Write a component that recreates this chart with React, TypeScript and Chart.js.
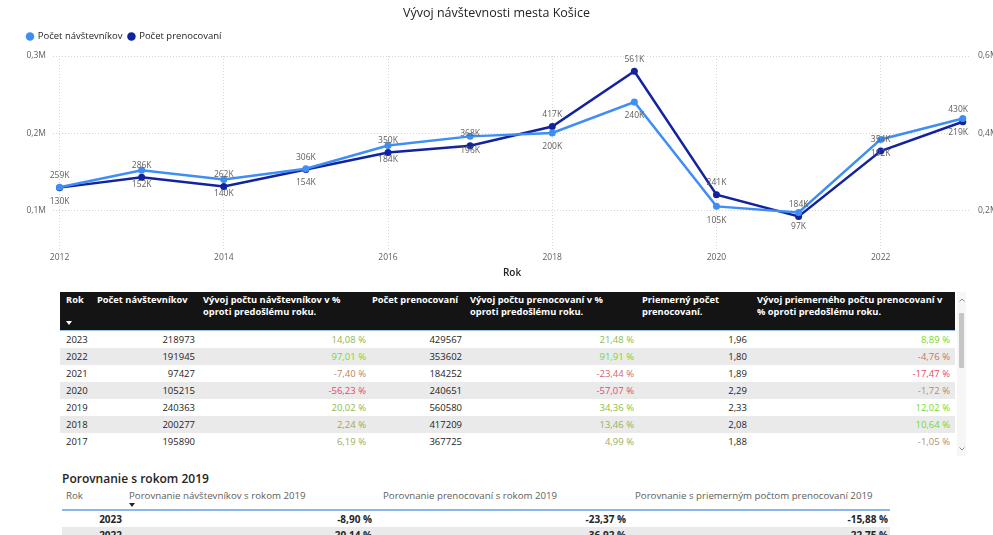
import React, { useEffect, useRef } from 'react';
import { Chart, registerables } from 'chart.js';

Chart.register(...registerables);

const FONT = "'Open Sans', 'Noto Sans', sans-serif";

// ---- chart data ----
const years = [2012, 2013, 2014, 2015, 2016, 2017, 2018, 2019, 2020, 2021, 2022, 2023];
const visitors = [130000, 152000, 140000, 154000, 184000, 195890, 200277, 240363, 105215, 97427, 191945, 218973];
const nights = [259000, 286000, 262000, 306000, 350000, 367725, 417209, 560580, 240651, 184252, 353602, 429567];
const xTickYears = [2012, 2014, 2016, 2018, 2020, 2022];
const leftTicks = [100000, 200000, 300000];
const rightTicks = [200000, 400000, 600000];

// ---- table data ----
const tableYears = [2023, 2022, 2021, 2020, 2019, 2018, 2017];
const tableVisitors = [218973, 191945, 97427, 105215, 240363, 200277, 195890];
const visitorsChange = [14.08, 97.01, -7.4, -56.23, 20.02, 2.24, 6.19];
const tableNights = [429567, 353602, 184252, 240651, 560580, 417209, 367725];
const nightsChange = [21.48, 91.91, -23.44, -57.07, 34.36, 13.46, 4.99];
const avgNights = [1.96, 1.8, 1.89, 2.29, 2.33, 2.08, 1.88];
const avgChange = [8.89, -4.76, -17.47, -1.72, 12.02, 10.64, -1.05];

const cmpYears = [2023, 2022];
const cmpVisitors = [-8.9, -20.14];
const cmpNights = [-23.37, -36.92];
const cmpAvg = [-15.88, -22.75];

const LIGHT = '#3E8EF3';
const DARK = '#12239E';

const TITLE_SIZE = 12.5;
const TITLE_PAD = 2;
const LEGEND_PAD = 6;
const LEGEND_FONT = 9.5;

const fmtM = (v: number) => (v / 1e6).toFixed(1).replace('.', ',') + 'M';
const fmtK = (v: number) => Math.round(v / 1000) + 'K';
const fmtPct = (v: number) => v.toFixed(2).replace('.', ',') + ' %';
const fmtDec = (v: number) => v.toFixed(2).replace('.', ',');

function mix(a: number[], b: number[], t: number) {
  const c = a.map((av, i) => Math.round(av + (b[i] - av) * t));
  return `rgb(${c[0]},${c[1]},${c[2]})`;
}
function pctColor(v: number, arr: number[]) {
  const max = Math.max(...arr);
  const min = Math.min(...arr);
  const neutral = [165, 160, 105];
  if (v >= 0) return mix(neutral, [110, 222, 40], Math.pow(v / max, 0.6));
  return mix(neutral, [228, 72, 108], Math.pow(v / min, 0.6));
}

const pointLabels = {
  id: 'pointLabels',
  afterDatasetsDraw(chart: any) {
    const ctx = chart.ctx;
    const area = chart.chartArea;
    ctx.save();
    ctx.font = `8.5px ${FONT}`;
    ctx.fillStyle = '#605E5C';
    ctx.textAlign = 'center';
    ctx.textBaseline = 'middle';
    const offsets = [14, -12];
    chart.data.datasets.forEach((ds: any, di: number) => {
      const meta = chart.getDatasetMeta(di);
      meta.data.forEach((pt: any, i: number) => {
        const txt = fmtK(ds.data[i].y);
        const w = ctx.measureText(txt).width;
        let x = pt.x;
        if (x + w / 2 > area.right - 3) x = area.right - 3 - w / 2;
        ctx.fillText(txt, x, pt.y + offsets[di]);
      });
    });
    ctx.restore();
  },
};

// pin the title and legend rows to the reference positions
const headerPlacement = {
  id: 'headerPlacement',
  afterLayout(chart: any) {
    const t = chart.titleBlock;
    if (t) {
      const h = t.bottom - t.top;
      t.top = 13.5 - (TITLE_SIZE * 1.2) / 2 - TITLE_PAD;
      t.bottom = t.top + h;
    }
    const l = chart.legend;
    if (l) {
      const h = l.bottom - l.top;
      l.left = 27 - LEGEND_PAD;
      l.top = 36.5 - LEGEND_PAD - LEGEND_FONT / 2;
      l.bottom = l.top + h;
    }
  },
};

const tickFont = { family: FONT, size: 8.5 };

export default function App() {
  const canvasRef = useRef<HTMLCanvasElement>(null);

  useEffect(() => {
    const chart = new Chart(canvasRef.current as HTMLCanvasElement, {
      type: 'line',
      data: {
        datasets: [
          {
            label: 'Počet návštevníkov',
            data: years.map((y, i) => ({ x: y, y: visitors[i] })),
            yAxisID: 'y',
            borderColor: LIGHT,
            backgroundColor: LIGHT,
            pointBackgroundColor: LIGHT,
            pointBorderColor: LIGHT,
            borderWidth: 2.5,
            pointRadius: 3.5,
            pointBorderWidth: 0,
            tension: 0,
          },
          {
            label: 'Počet prenocovaní',
            data: years.map((y, i) => ({ x: y, y: nights[i] })),
            yAxisID: 'y1',
            borderColor: DARK,
            backgroundColor: DARK,
            pointBackgroundColor: DARK,
            pointBorderColor: DARK,
            borderWidth: 2.5,
            pointRadius: 3.5,
            pointBorderWidth: 0,
            tension: 0,
          },
        ],
      },
      options: {
        animation: false,
        responsive: false,
        maintainAspectRatio: false,
        layout: { padding: 0 },
        plugins: {
          title: {
            display: true,
            text: 'Vývoj návštevnosti mesta Košice',
            color: '#252423',
            font: { family: FONT, size: TITLE_SIZE, weight: 'normal', lineHeight: 1.2 },
            padding: { top: TITLE_PAD, bottom: 0 },
          },
          legend: {
            display: true,
            position: 'top',
            align: 'start',
            labels: {
              usePointStyle: true,
              pointStyle: 'circle',
              boxWidth: 6,
              boxHeight: 6,
              padding: LEGEND_PAD,
              color: '#252423',
              font: { family: FONT, size: LEGEND_FONT },
            },
          },
          tooltip: { enabled: false },
        },
        scales: {
          x: {
            type: 'linear',
            min: 2011.92,
            max: 2023.1,
            afterBuildTicks: (s: any) => {
              s.ticks = xTickYears.map((v) => ({ value: v }));
            },
            afterFit: (s: any) => {
              s.height = 36;
            },
            ticks: {
              callback: (v: any) => String(v),
              color: '#605E5C',
              font: tickFont,
              padding: 3,
              maxRotation: 0,
              autoSkip: false,
            },
            grid: { color: '#d6d6d6', drawTicks: false, lineWidth: 1 },
            border: { display: false, dash: [1, 2] },
            title: {
              display: true,
              text: 'Rok',
              color: '#252423',
              font: { family: FONT, size: 10, weight: '600' },
              padding: { top: 0, bottom: 6 },
            },
          },
          y: {
            position: 'left',
            min: 50000,
            max: 300000,
            afterBuildTicks: (s: any) => {
              s.ticks = leftTicks.map((v) => ({ value: v }));
            },
            afterFit: (s: any) => {
              s.width = 53;
              s.paddingTop = 56;
            },
            ticks: {
              callback: (v: any) => fmtM(Number(v)),
              color: '#605E5C',
              font: tickFont,
              padding: 7,
            },
            grid: { color: '#d6d6d6', drawTicks: false, lineWidth: 1 },
            border: { display: false, dash: [1, 2] },
          },
          y1: {
            position: 'right',
            min: 100000,
            max: 600000,
            afterBuildTicks: (s: any) => {
              s.ticks = rightTicks.map((v) => ({ value: v }));
            },
            afterFit: (s: any) => {
              s.width = 22;
            },
            ticks: {
              callback: (v: any) => fmtM(Number(v)),
              color: '#605E5C',
              font: tickFont,
              padding: 7,
            },
            grid: { display: false, drawTicks: false },
            border: { display: false },
          },
        },
      } as any,
      plugins: [pointLabels, headerPlacement],
    } as any);
    return () => chart.destroy();
  }, []);

  const W = 993;
  const txt = (
    key: string,
    x: number,
    y: number,
    text: string,
    opts: { align?: 'left' | 'right'; color?: string; size?: number; weight?: number | string } = {}
  ) => {
    const style: React.CSSProperties = {
      position: 'absolute',
      top: y - 7,
      lineHeight: '14px',
      height: 14,
      whiteSpace: 'nowrap',
      fontSize: opts.size ?? 9.5,
      fontWeight: (opts.weight ?? 400) as any,
      color: opts.color ?? '#252423',
    };
    if (opts.align === 'right') style.right = W - x;
    else style.left = x;
    return (
      <div key={key} style={style}>
        {text}
      </div>
    );
  };

  const headerTop = 292;
  const headerH = 38;
  const rowTop = 331;
  const rowH = 17;
  const l1 = 300;
  const l2 = 312;
  const hOpts = { color: '#ffffff', size: 9.3, weight: 700 };

  const rows: any[] = [];
  tableYears.forEach((yr, i) => {
    const top = rowTop + i * rowH;
    const cy = top + rowH / 2;
    if (i % 2 === 1) {
      rows.push(
        <div key={'bg' + i} style={{ position: 'absolute', left: 60, top, width: 895, height: rowH, background: '#eaeaea' }} />
      );
    }
    rows.push(txt('y' + i, 66, cy, String(yr)));
    rows.push(txt('v' + i, 195, cy, String(tableVisitors[i]), { align: 'right' }));
    rows.push(txt('vc' + i, 366, cy, fmtPct(visitorsChange[i]), { align: 'right', color: pctColor(visitorsChange[i], visitorsChange) }));
    rows.push(txt('n' + i, 462, cy, String(tableNights[i]), { align: 'right' }));
    rows.push(txt('nc' + i, 634, cy, fmtPct(nightsChange[i]), { align: 'right', color: pctColor(nightsChange[i], nightsChange) }));
    rows.push(txt('a' + i, 747, cy, fmtDec(avgNights[i]), { align: 'right' }));
    rows.push(txt('ac' + i, 950, cy, fmtPct(avgChange[i]), { align: 'right', color: pctColor(avgChange[i], avgChange) }));
  });

  const cmpRows: any[] = [];
  const cmpRight = [122, 372, 626, 888];
  cmpYears.forEach((yr, i) => {
    const top = 511 + i * 16;
    const cy = top + 7.5;
    if (i % 2 === 1) {
      cmpRows.push(
        <div key={'cbg' + i} style={{ position: 'absolute', left: 62, top, width: 828, height: 17, background: '#eaeaea' }} />
      );
    }
    const o = { align: 'right' as const, weight: 700, size: 10 };
    cmpRows.push(txt('cy' + i, cmpRight[0], cy, String(yr), o));
    cmpRows.push(txt('cv' + i, cmpRight[1], cy, fmtPct(cmpVisitors[i]), o));
    cmpRows.push(txt('cn' + i, cmpRight[2], cy, fmtPct(cmpNights[i]), o));
    cmpRows.push(txt('ca' + i, cmpRight[3], cy, fmtPct(cmpAvg[i]), o));
  });

  const chevron = (key: string, x: number, y: number, up: boolean) => (
    <svg key={key} style={{ position: 'absolute', left: x - 3, top: y - 2 }} width={6} height={4} viewBox="0 0 6 4">
      <polyline points={up ? '0.5,3.5 3,1 5.5,3.5' : '0.5,0.5 3,3 5.5,0.5'} fill="none" stroke="#8a8a8a" strokeWidth={1} />
    </svg>
  );

  const cmpHead = { size: 9.7, color: '#605E5C' };

  return (
    <div
      style={{
        position: 'absolute',
        left: 0,
        top: 0,
        width: W,
        height: 535,
        overflow: 'hidden',
        background: '#ffffff',
        fontFamily: FONT,
      }}
    >
      <canvas ref={canvasRef} width={993} height={285} style={{ position: 'absolute', left: 0, top: 0, width: 993, height: 285 }} />

      {/* main table header */}
      <div style={{ position: 'absolute', left: 60, top: headerTop, width: 895, height: headerH, background: '#141414' }} />
      <div style={{ position: 'absolute', left: 60, top: headerTop + headerH, width: 895, height: 1, background: '#9cc3ee' }} />
      {txt('h1', 66, l1, 'Rok', hOpts)}
      <div
        style={{
          position: 'absolute',
          left: 66,
          top: 321,
          width: 0,
          height: 0,
          borderLeft: '3px solid transparent',
          borderRight: '3px solid transparent',
          borderTop: '4px solid #ffffff',
        }}
      />
      {txt('h2', 97, l1, 'Počet návštevníkov', hOpts)}
      {txt('h3a', 203, l1, 'Vývoj počtu návštevníkov v %', hOpts)}
      {txt('h3b', 203, l2, 'oproti predošlému roku.', hOpts)}
      {txt('h4', 372, l1, 'Počet prenocovaní', hOpts)}
      {txt('h5a', 470, l1, 'Vývoj počtu prenocovaní v %', hOpts)}
      {txt('h5b', 470, l2, 'oproti predošlému roku.', hOpts)}
      {txt('h6a', 642, l1, 'Priemerný počet', hOpts)}
      {txt('h6b', 642, l2, 'prenocovaní.', hOpts)}
      {txt('h7a', 757, l1, 'Vývoj priemerného počtu prenocovaní v', hOpts)}
      {txt('h7b', 757, l2, '% oproti predošlému roku.', hOpts)}

      {rows}

      {/* scrollbar */}
      <div style={{ position: 'absolute', left: 957, top: 292, width: 9, height: 164, background: '#f6f6f6' }} />
      <div style={{ position: 'absolute', left: 959, top: 313, width: 5, height: 55, background: '#c6c6c6', borderRadius: 1 }} />
      {chevron('up', 961.5, 300, true)}
      {chevron('down', 961.5, 449, false)}

      {/* comparison section */}
      {txt('ct', 62, 479, 'Porovnanie s rokom 2019', { size: 12, weight: 600, color: '#252423' })}
      {txt('ch1', 66, 496, 'Rok', cmpHead)}
      {txt('ch2', 129, 496, 'Porovnanie návštevníkov s rokom 2019', cmpHead)}
      {txt('ch3', 383, 496, 'Porovnanie prenocovaní s rokom 2019', cmpHead)}
      {txt('ch4', 635, 496, 'Porovnanie s priemerným počtom prenocovaní 2019', cmpHead)}
      <div
        style={{
          position: 'absolute',
          left: 129,
          top: 503,
          width: 0,
          height: 0,
          borderLeft: '3px solid transparent',
          borderRight: '3px solid transparent',
          borderTop: '4px solid #252423',
        }}
      />
      <div style={{ position: 'absolute', left: 62, top: 509, width: 828, height: 1.5, background: '#8ab8ee' }} />
      {cmpRows}
    </div>
  );
}
